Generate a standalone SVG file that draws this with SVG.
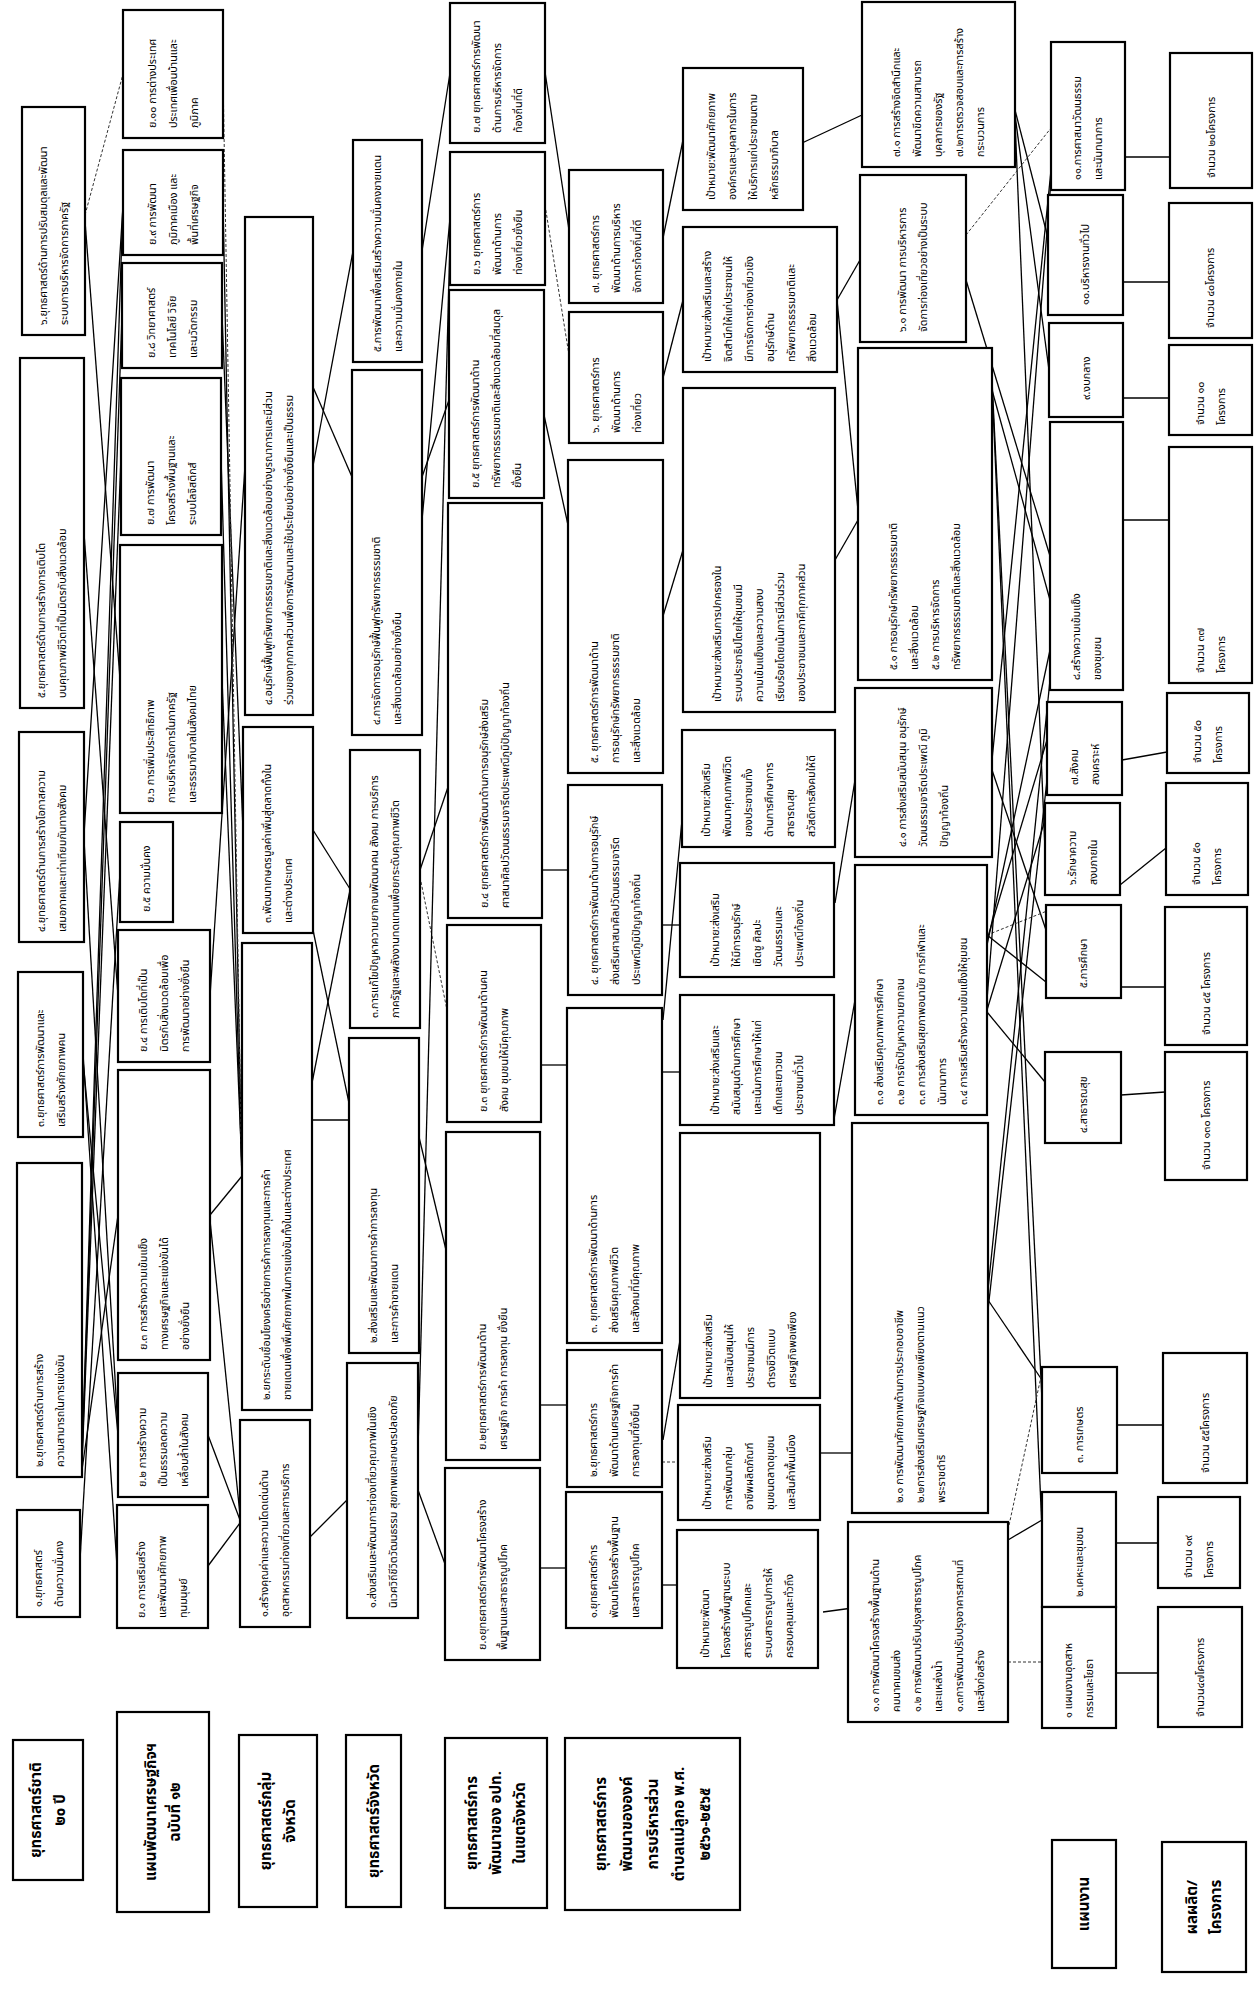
<svg xmlns="http://www.w3.org/2000/svg" width="1255" height="1989" viewBox="0 0 1255 1989">
<style>
.b{fill:#fff;stroke:#000;stroke-width:2.2}
text{font-family:"Noto Sans Thai","Noto Sans Thai UI","Noto Sans",Loma,Garuda,Norasi,sans-serif;fill:#000}
.t{font-size:10.8px}
.h{font-size:15px;font-weight:bold;text-anchor:middle}
.c line{stroke:#000;stroke-width:1.3}
.c line.d{stroke:#333;stroke-width:1;stroke-dasharray:3 2}
</style>
<rect x="0" y="0" width="1255" height="1989" fill="#fff"/>
<g class="c" id="connectors">
<line x1="80" y1="1560" x2="120" y2="872"/>
<line x1="82" y1="1470" x2="118" y2="1215"/>
<line x1="82" y1="1465" x2="121" y2="456"/>
<line x1="82" y1="1460" x2="122" y2="315"/>
<line x1="82" y1="1455" x2="123" y2="202"/>
<line x1="83" y1="1054" x2="117" y2="1566"/>
<line x1="83" y1="1060" x2="118" y2="1435"/>
<line x1="84" y1="840" x2="118" y2="1430"/>
<line x1="84" y1="835" x2="123" y2="205"/>
<line x1="84" y1="533" x2="118" y2="996"/>
<line x1="85" y1="221" x2="120" y2="679"/>
<line class="d" x1="85" y1="215" x2="123" y2="74"/>
<line x1="208" y1="1566" x2="240" y2="1523"/>
<line x1="208" y1="1435" x2="240" y2="1520"/>
<line x1="210" y1="1215" x2="242" y2="1176"/>
<line x1="210" y1="1220" x2="240" y2="1515"/>
<line x1="210" y1="996" x2="245" y2="466"/>
<line x1="222" y1="679" x2="242" y2="1170"/>
<line x1="221" y1="456" x2="242" y2="1180"/>
<line x1="222" y1="315" x2="243" y2="830"/>
<line x1="223" y1="202" x2="242" y2="1185"/>
<line class="d" x1="223" y1="74" x2="242" y2="1190"/>
<line x1="313" y1="387" x2="352" y2="477"/>
<line x1="313" y1="466" x2="353" y2="251"/>
<line x1="313" y1="830" x2="350" y2="889"/>
<line x1="312" y1="1120" x2="349" y2="1120"/>
<line x1="312" y1="1083" x2="350" y2="890"/>
<line x1="313" y1="930" x2="349" y2="1103"/>
<line x1="310" y1="1537" x2="347" y2="1500"/>
<line x1="422" y1="251" x2="450" y2="73"/>
<line x1="422" y1="477" x2="449" y2="400"/>
<line x1="422" y1="520" x2="450" y2="218"/>
<line x1="420" y1="870" x2="448" y2="787"/>
<line class="d" x1="420" y1="877" x2="447" y2="1010"/>
<line x1="419" y1="1137" x2="446" y2="1250"/>
<line x1="418" y1="1490" x2="445" y2="1564"/>
<line x1="418" y1="1450" x2="450" y2="240"/>
<line x1="545" y1="72" x2="569" y2="230"/>
<line class="d" x1="545" y1="205" x2="569" y2="355"/>
<line x1="544" y1="415" x2="568" y2="525"/>
<line x1="542" y1="870" x2="568" y2="870"/>
<line x1="541" y1="1065" x2="567" y2="1065"/>
<line x1="540" y1="1405" x2="567" y2="1405"/>
<line x1="540" y1="1568" x2="566" y2="1568"/>
<line x1="663" y1="238" x2="683" y2="140"/>
<line x1="663" y1="378" x2="683" y2="300"/>
<line x1="663" y1="616" x2="683" y2="550"/>
<line x1="662" y1="925" x2="680" y2="925"/>
<line x1="663" y1="1020" x2="682" y2="820"/>
<line x1="662" y1="1072" x2="680" y2="1072"/>
<line x1="663" y1="1440" x2="680" y2="1340"/>
<line class="d" x1="662" y1="1462" x2="678" y2="1462"/>
<line x1="662" y1="1585" x2="677" y2="1585"/>
<line x1="802" y1="143" x2="862" y2="115"/>
<line x1="837" y1="300" x2="860" y2="260"/>
<line x1="837" y1="300" x2="858" y2="510"/>
<line x1="835" y1="560" x2="858" y2="520"/>
<line x1="835" y1="903" x2="855" y2="780"/>
<line x1="833" y1="1125" x2="855" y2="1000"/>
<line x1="820" y1="1453" x2="852" y2="1453"/>
<line x1="823" y1="1612" x2="860" y2="1607"/>
<line x1="1015" y1="110" x2="1048" y2="238"/>
<line x1="1015" y1="115" x2="1049" y2="370"/>
<line x1="1015" y1="120" x2="1045" y2="850"/>
<line class="d" x1="966" y1="235" x2="1051" y2="128"/>
<line x1="966" y1="280" x2="1050" y2="556"/>
<line x1="992" y1="380" x2="1042" y2="1400"/>
<line x1="992" y1="385" x2="1042" y2="1530"/>
<line x1="992" y1="390" x2="1050" y2="600"/>
<line x1="992" y1="760" x2="1051" y2="170"/>
<line x1="992" y1="770" x2="1046" y2="930"/>
<line class="d" x1="987" y1="935" x2="1057" y2="907"/>
<line x1="987" y1="935" x2="1046" y2="982"/>
<line x1="987" y1="1012" x2="1045" y2="1082"/>
<line x1="987" y1="940" x2="1047" y2="740"/>
<line x1="987" y1="945" x2="1050" y2="650"/>
<line x1="987" y1="1010" x2="1045" y2="820"/>
<line x1="987" y1="1000" x2="1051" y2="180"/>
<line x1="988" y1="1300" x2="1042" y2="1380"/>
<line x1="988" y1="1290" x2="1050" y2="680"/>
<line x1="988" y1="1310" x2="1047" y2="780"/>
<line class="d" x1="1008" y1="1662" x2="1042" y2="1662"/>
<line x1="1008" y1="1540" x2="1042" y2="1520"/>
<line class="d" x1="1008" y1="1530" x2="1042" y2="1372"/>
<line x1="1125" y1="157" x2="1170" y2="157"/>
<line x1="1123" y1="282" x2="1169" y2="282"/>
<line x1="1123" y1="398" x2="1169" y2="398"/>
<line x1="1123" y1="520" x2="1169" y2="520"/>
<line x1="1122" y1="760" x2="1167" y2="752"/>
<line x1="1120" y1="885" x2="1166" y2="848"/>
<line x1="1121" y1="987" x2="1165" y2="987"/>
<line x1="1121" y1="1095" x2="1165" y2="1092"/>
<line x1="1117" y1="1425" x2="1163" y2="1425"/>
<line x1="1116" y1="1543" x2="1158" y2="1543"/>
<line x1="1116" y1="1673" x2="1158" y2="1673"/>
</g>

<g id="n1_6"><rect class="b" x="22" y="107" width="63" height="228"/><text class="t" transform="translate(53.5 221) rotate(-90)"><tspan x="-104" y="-6.8">๖.ยุทธศาสตร์ด้านการปรับสมดุลและพัฒนา</tspan><tspan x="-104" y="14.2">ระบบการบริหารจัดการภาครัฐ</tspan></text></g>
<g id="n1_5"><rect class="b" x="20" y="358" width="64" height="350"/><text class="t" transform="translate(52 533) rotate(-90)"><tspan x="-165" y="-6.8">๕.ยุทธศาสตร์ด้านการสร้างการเติบโต</tspan><tspan x="-165" y="14.2">บนคุณภาพชีวิตที่เป็นมิตรกับสิ่งแวดล้อม</tspan></text></g>
<g id="n1_4"><rect class="b" x="19" y="732" width="65" height="210"/><text class="t" transform="translate(51.5 837) rotate(-90)"><tspan x="-95" y="-6.8">๔.ยุทธศาสตร์ด้านการสร้างโอกาสความ</tspan><tspan x="-95" y="14.2">เสมอภาคและเท่าเทียมกันทางสังคม</tspan></text></g>
<g id="n1_3"><rect class="b" x="18" y="972" width="65" height="165"/><text class="t" transform="translate(50.5 1054.5) rotate(-90)"><tspan x="-72.5" y="-6.8">๓.ยุทธศาสตร์การพัฒนาและ</tspan><tspan x="-72.5" y="14.2">เสริมสร้างศักยภาพคน</tspan></text></g>
<g id="n1_2"><rect class="b" x="17" y="1163" width="65" height="314"/><text class="t" transform="translate(49.5 1320) rotate(-90)"><tspan x="-147" y="-6.8">๒.ยุทธศาสตร์ด้านการสร้าง</tspan><tspan x="-147" y="14.2">ความสามารถในการแข่งขัน</tspan></text></g>
<g id="n1_1"><rect class="b" x="17" y="1510" width="63" height="107"/><text class="t" transform="translate(48.5 1563.5) rotate(-90)"><tspan x="-43.5" y="-6.8">๑.ยุทธศาสตร์</tspan><tspan x="-43.5" y="14.2">ด้านความมั่นคง</tspan></text></g>
<g id="h1"><rect class="b" x="13" y="1740" width="70" height="140"/><text class="h" transform="translate(48 1810) rotate(-90)"><tspan x="0" y="-7">ยุทธศาสตร์ชาติ</tspan><tspan x="0" y="17">๒๐ ปี</tspan></text></g>

<g id="y10"><rect class="b" x="123" y="10" width="100" height="128"/><text class="t" transform="translate(173 74) rotate(-90)"><tspan x="-54" y="-17.3">ย.๑๐ การต่างประเทศ</tspan><tspan x="-54" y="3.7">ประเทศเพื่อนบ้านและ</tspan><tspan x="-54" y="24.7">ภูมิภาค</tspan></text></g>
<g id="y9"><rect class="b" x="123" y="150" width="100" height="105"/><text class="t" transform="translate(173 202.5) rotate(-90)"><tspan x="-42.5" y="-17.3">ย.๙ การพัฒนา</tspan><tspan x="-42.5" y="3.7">ภูมิภาคเมือง และ</tspan><tspan x="-42.5" y="24.7">พื้นที่เศรษฐกิจ</tspan></text></g>
<g id="y8"><rect class="b" x="122" y="263" width="100" height="105"/><text class="t" transform="translate(172 315.5) rotate(-90)"><tspan x="-42.5" y="-17.3">ย.๘ วิทยาศาสตร์</tspan><tspan x="-42.5" y="3.7">เทคโนโลยี วิจัย</tspan><tspan x="-42.5" y="24.7">และนวัตกรรม</tspan></text></g>
<g id="y7"><rect class="b" x="121" y="378" width="100" height="157"/><text class="t" transform="translate(171 456.5) rotate(-90)"><tspan x="-68.5" y="-17.3">ย.๗ การพัฒนา</tspan><tspan x="-68.5" y="3.7">โครงสร้างพื้นฐานและ</tspan><tspan x="-68.5" y="24.7">ระบบโลจิสติกส์</tspan></text></g>
<g id="y6"><rect class="b" x="120" y="545" width="102" height="268"/><text class="t" transform="translate(171 679) rotate(-90)"><tspan x="-124" y="-17.3">ย.๖ การเพิ่มประสิทธิภาพ</tspan><tspan x="-124" y="3.7">การบริหารจัดการในภาครัฐ</tspan><tspan x="-124" y="24.7">และธรรมาภิบาลในสังคมไทย</tspan></text></g>
<g id="y5"><rect class="b" x="120" y="822" width="53" height="100"/><text class="t" transform="translate(146.5 872) rotate(-90)"><tspan x="-40" y="3.7">ย.๕ ความมั่นคง</tspan></text></g>
<g id="y4"><rect class="b" x="118" y="930" width="92" height="132"/><text class="t" transform="translate(164 996) rotate(-90)"><tspan x="-56" y="-17.3">ย.๔ การเติบโตที่เป็น</tspan><tspan x="-56" y="3.7">มิตรกับสิ่งแวดล้อมเพื่อ</tspan><tspan x="-56" y="24.7">การพัฒนาอย่างยั่งยืน</tspan></text></g>
<g id="y3"><rect class="b" x="118" y="1070" width="92" height="290"/><text class="t" transform="translate(164 1215) rotate(-90)"><tspan x="-135" y="-17.3">ย.๓ การสร้างความเข้มแข็ง</tspan><tspan x="-135" y="3.7">ทางเศรษฐกิจและแข่งขันได้</tspan><tspan x="-135" y="24.7">อย่างยั่งยืน</tspan></text></g>
<g id="y2"><rect class="b" x="118" y="1373" width="90" height="124"/><text class="t" transform="translate(163 1435) rotate(-90)"><tspan x="-52" y="-17.3">ย.๒ การสร้างความ</tspan><tspan x="-52" y="3.7">เป็นธรรมลดความ</tspan><tspan x="-52" y="24.7">เหลื่อมล้ำในสังคม</tspan></text></g>
<g id="y1"><rect class="b" x="117" y="1505" width="91" height="123"/><text class="t" transform="translate(162.5 1566.5) rotate(-90)"><tspan x="-51.5" y="-17.3">ย.๑ การเสริมสร้าง</tspan><tspan x="-51.5" y="3.7">และพัฒนาศักยภาพ</tspan><tspan x="-51.5" y="24.7">ทุนมนุษย์</tspan></text></g>
<g id="h2"><rect class="b" x="117" y="1712" width="92" height="200"/><text class="h" transform="translate(163 1812) rotate(-90)"><tspan x="0" y="-7">แผนพัฒนาเศรษฐกิจฯ</tspan><tspan x="0" y="17">ฉบับที่ ๑๒</tspan></text></g>

<g id="g4"><rect class="b" x="245" y="217" width="68" height="498"/><text class="t" transform="translate(279 466) rotate(-90)"><tspan x="-239" y="-6.8">๔.อนุรักษ์ฟื้นฟูทรัพยากรธรรมชาติและสิ่งแวดล้อมอย่างบูรณาการและมีส่วน</tspan><tspan x="-239" y="14.2">ร่วมของทุกภาคส่วนเพื่อการพัฒนาและใช้ประโยชน์อย่างยั่งยืนและเป็นธรรม</tspan></text></g>
<g id="g3"><rect class="b" x="243" y="727" width="70" height="206"/><text class="t" transform="translate(278 830) rotate(-90)"><tspan x="-93" y="-6.8">๓.พัฒนาเกษตรมูลค่าเพิ่มสู่ตลาดทั้งใน</tspan><tspan x="-93" y="14.2">และต่างประเทศ</tspan></text></g>
<g id="g2"><rect class="b" x="242" y="943" width="70" height="467"/><text class="t" transform="translate(277 1176.5) rotate(-90)"><tspan x="-223.5" y="-6.8">๒.ยกระดับเชื่อมโยงเครือข่ายการค้าการลงทุนและการค้า</tspan><tspan x="-223.5" y="14.2">ชายแดนเพื่อเพิ่มศักยภาพในการแข่งขันทั้งในและต่างประเทศ</tspan></text></g>
<g id="g1"><rect class="b" x="240" y="1420" width="70" height="207"/><text class="t" transform="translate(275 1523.5) rotate(-90)"><tspan x="-93.5" y="-6.8">๑.สร้างคุณค่าและความโดดเด่นด้าน</tspan><tspan x="-93.5" y="14.2">อุตสาหกรรมท่องเที่ยวและการบริการ</tspan></text></g>
<g id="h3"><rect class="b" x="239" y="1735" width="78" height="172"/><text class="h" transform="translate(278 1821) rotate(-90)"><tspan x="0" y="-7">ยุทธศาสตร์กลุ่ม</tspan><tspan x="0" y="17">จังหวัด</tspan></text></g>

<g id="p5"><rect class="b" x="353" y="140" width="69" height="222"/><text class="t" transform="translate(387.5 251) rotate(-90)"><tspan x="-101" y="-6.8">๕.การพัฒนาเพื่อเสริมสร้างความมั่นคงชายแดน</tspan><tspan x="-101" y="14.2">และความมั่นคงภายใน</tspan></text></g>
<g id="p4"><rect class="b" x="352" y="370" width="70" height="365"/><text class="t" transform="translate(387 552.5) rotate(-90)"><tspan x="-172.5" y="-6.8">๔.การจัดการอนุรักษ์ฟื้นฟูทรัพยากรธรรมชาติ</tspan><tspan x="-172.5" y="14.2">และสิ่งแวดล้อมอย่างยั่งยืน</tspan></text></g>
<g id="p3"><rect class="b" x="350" y="750" width="70" height="278"/><text class="t" transform="translate(385 889) rotate(-90)"><tspan x="-129" y="-6.8">๓.การแก้ไขปัญหาความยากจนพัฒนาคน สังคม การบริการ</tspan><tspan x="-129" y="14.2">ภาครัฐและพลังงานทดแทนเพื่อยกระดับคุณภาพชีวิต</tspan></text></g>
<g id="p2"><rect class="b" x="349" y="1038" width="70" height="315"/><text class="t" transform="translate(384 1195.5) rotate(-90)"><tspan x="-147.5" y="-6.8">๒.ส่งเสริมและพัฒนาการค้าการลงทุน</tspan><tspan x="-147.5" y="14.2">และการค้าชายแดน</tspan></text></g>
<g id="p1"><rect class="b" x="347" y="1363" width="71" height="255"/><text class="t" transform="translate(382.5 1490.5) rotate(-90)"><tspan x="-117.5" y="-6.8">๑.ส่งเสริมและพัฒนาการท่องเที่ยวคุณภาพในเชิง</tspan><tspan x="-117.5" y="14.2">นิเวศวิถีชีวิตวัฒนธรรม สุขภาพและเกษตรปลอดภัย</tspan></text></g>
<g id="h4"><rect class="b" x="346" y="1735" width="55" height="172"/><text class="h" transform="translate(373.5 1821) rotate(-90)"><tspan x="0" y="5">ยุทธศาสตร์จังหวัด</tspan></text></g>

<g id="a7"><rect class="b" x="450" y="3" width="95" height="140"/><text class="t" transform="translate(497.5 73) rotate(-90)"><tspan x="-60" y="-17.3">ย.๗ ยุทธศาสตร์การพัฒนา</tspan><tspan x="-60" y="3.7">ด้านการบริหารจัดการ</tspan><tspan x="-60" y="24.7">ท้องถิ่นที่ดี</tspan></text></g>
<g id="a6"><rect class="b" x="450" y="152" width="95" height="133"/><text class="t" transform="translate(497.5 218.5) rotate(-90)"><tspan x="-56.5" y="-17.3">ย.๖ ยุทธศาสตร์การ</tspan><tspan x="-56.5" y="3.7">พัฒนาด้านการ</tspan><tspan x="-56.5" y="24.7">ท่องเที่ยวยั่งยืน</tspan></text></g>
<g id="a5"><rect class="b" x="449" y="290" width="95" height="208"/><text class="t" transform="translate(496.5 394) rotate(-90)"><tspan x="-94" y="-17.3">ย.๕ ยุทธศาสตร์การพัฒนาด้าน</tspan><tspan x="-94" y="3.7">ทรัพยากรธรรมชาติและสิ่งแวดล้อมที่สมดุล</tspan><tspan x="-94" y="24.7">ยั่งยืน</tspan></text></g>
<g id="a4"><rect class="b" x="448" y="503" width="94" height="415"/><text class="t" transform="translate(495 710.5) rotate(-90)"><tspan x="-197.5" y="-6.8">ย.๔ ยุทธศาสตร์การพัฒนาด้านการอนุรักษ์ส่งเสริม</tspan><tspan x="-197.5" y="14.2">ศาสนาศิลปวัฒนธรรมจารีตประเพณีภูมิปัญญาท้องถิ่น</tspan></text></g>
<g id="a3"><rect class="b" x="447" y="925" width="94" height="197"/><text class="t" transform="translate(494 1023.5) rotate(-90)"><tspan x="-88.5" y="-6.8">ย.๓ ยุทธศาสตร์การพัฒนาด้านคน</tspan><tspan x="-88.5" y="14.2">สังคม ชุมชนให้มีคุณภาพ</tspan></text></g>
<g id="a2"><rect class="b" x="446" y="1132" width="94" height="328"/><text class="t" transform="translate(493 1296) rotate(-90)"><tspan x="-154" y="-6.8">ย.๒ยุทธศาสตร์การพัฒนาด้าน</tspan><tspan x="-154" y="14.2">เศรษฐกิจ การค้า การลงทุน ยั่งยืน</tspan></text></g>
<g id="a1"><rect class="b" x="445" y="1468" width="95" height="192"/><text class="t" transform="translate(492.5 1564) rotate(-90)"><tspan x="-86" y="-6.8">ย.๑ยุทธศาสตร์การพัฒนาโครงสร้าง</tspan><tspan x="-86" y="14.2">พื้นฐานและสาธารณูปโภค</tspan></text></g>
<g id="h5"><rect class="b" x="445" y="1738" width="102" height="170"/><text class="h" transform="translate(496 1823) rotate(-90)"><tspan x="0" y="-19">ยุทธศาสตร์การ</tspan><tspan x="0" y="5">พัฒนาของ อปท.</tspan><tspan x="0" y="29">ในเขตจังหวัด</tspan></text></g>

<g id="s7"><rect class="b" x="569" y="170" width="94" height="133"/><text class="t" transform="translate(616 236.5) rotate(-90)"><tspan x="-56.5" y="-17.3">๗. ยุทธศาสตร์การ</tspan><tspan x="-56.5" y="3.7">พัฒนาด้านการบริหาร</tspan><tspan x="-56.5" y="24.7">จัดการท้องถิ่นที่ดี</tspan></text></g>
<g id="s6"><rect class="b" x="569" y="312" width="94" height="131"/><text class="t" transform="translate(616 377.5) rotate(-90)"><tspan x="-55.5" y="-17.3">๖. ยุทธศาสตร์การ</tspan><tspan x="-55.5" y="3.7">พัฒนาด้านการ</tspan><tspan x="-55.5" y="24.7">ท่องเที่ยว</tspan></text></g>
<g id="s5"><rect class="b" x="568" y="460" width="95" height="313"/><text class="t" transform="translate(615.5 616.5) rotate(-90)"><tspan x="-146.5" y="-17.3">๕. ยุทธศาสตร์การพัฒนาด้าน</tspan><tspan x="-146.5" y="3.7">การอนุรักษ์ทรัพยากรธรรมชาติ</tspan><tspan x="-146.5" y="24.7">และสิ่งแวดล้อม</tspan></text></g>
<g id="s4"><rect class="b" x="568" y="785" width="94" height="210"/><text class="t" transform="translate(615 890) rotate(-90)"><tspan x="-95" y="-17.3">๔. ยุทธศาสตร์การพัฒนาด้านการอนุรักษ์</tspan><tspan x="-95" y="3.7">ส่งเสริมศาสนาศิลปวัฒนธรรมจารีต</tspan><tspan x="-95" y="24.7">ประเพณีภูมิปัญญาท้องถิ่น</tspan></text></g>
<g id="s3"><rect class="b" x="567" y="1008" width="95" height="335"/><text class="t" transform="translate(614.5 1175.5) rotate(-90)"><tspan x="-157.5" y="-17.3">๓. ยุทธศาสตร์การพัฒนาด้านการ</tspan><tspan x="-157.5" y="3.7">ส่งเสริมคุณภาพชีวิต</tspan><tspan x="-157.5" y="24.7">และสังคมที่มีคุณภาพ</tspan></text></g>
<g id="s2"><rect class="b" x="567" y="1350" width="95" height="137"/><text class="t" transform="translate(614.5 1418.5) rotate(-90)"><tspan x="-58.5" y="-17.3">๒.ยุทธศาสตร์การ</tspan><tspan x="-58.5" y="3.7">พัฒนาด้านเศรษฐกิจการค้า</tspan><tspan x="-58.5" y="24.7">การลงทุนที่ยั่งยืน</tspan></text></g>
<g id="s1"><rect class="b" x="566" y="1492" width="96" height="136"/><text class="t" transform="translate(614 1560) rotate(-90)"><tspan x="-58" y="-17.3">๑.ยุทธศาสตร์การ</tspan><tspan x="-58" y="3.7">พัฒนาโครงสร้างพื้นฐาน</tspan><tspan x="-58" y="24.7">และสาธารณูปโภค</tspan></text></g>
<g id="h6"><rect class="b" x="565" y="1738" width="175" height="172"/><text class="h" transform="translate(652.5 1824) rotate(-90)"><tspan x="0" y="-47">ยุทธศาสตร์การ</tspan><tspan x="0" y="-21">พัฒนาขององค์</tspan><tspan x="0" y="5">การบริหารส่วน</tspan><tspan x="0" y="31">ตำบลแม่ลูกอ พ.ศ.</tspan><tspan x="0" y="57">๒๕๖๑-๒๕๖๕</tspan></text></g>

<g id="t7"><rect class="b" x="683" y="68" width="120" height="142"/><text class="t" transform="translate(743 139) rotate(-90)"><tspan x="-61" y="-27.8">เป้าหมาย:พัฒนาศักยภาพ</tspan><tspan x="-61" y="-6.8">องค์กรและบุคลากรในการ</tspan><tspan x="-61" y="14.2">ให้บริการแก่ประชาชนตาม</tspan><tspan x="-61" y="35.2">หลักธรรมาภิบาล</tspan></text></g>
<g id="t6"><rect class="b" x="683" y="227" width="154" height="145"/><text class="t" transform="translate(760 299.5) rotate(-90)"><tspan x="-62.5" y="-48.8">เป้าหมาย:ส่งเสริมและสร้าง</tspan><tspan x="-62.5" y="-27.8">จิตสำนึกให้แก่ประชาชนให้</tspan><tspan x="-62.5" y="-6.8">มีการจัดการท่องเที่ยวเชิง</tspan><tspan x="-62.5" y="14.2">อนุรักษ์ด้าน</tspan><tspan x="-62.5" y="35.2">ทรัพยากรธรรมชาติและ</tspan><tspan x="-62.5" y="56.2">สิ่งแวดล้อม</tspan></text></g>
<g id="t5"><rect class="b" x="683" y="388" width="152" height="324"/><text class="t" transform="translate(759 550) rotate(-90)"><tspan x="-152" y="-38.3">เป้าหมาย:ส่งเสริมการปกครองใน</tspan><tspan x="-152" y="-17.3">ระบบประชาธิปไตยให้ชุมชนมี</tspan><tspan x="-152" y="3.7">ความเข้มแข็งและความสงบ</tspan><tspan x="-152" y="24.7">เรียบร้อยโดยเน้นการมีส่วนร่วม</tspan><tspan x="-152" y="45.7">ของประชาชนและภาคีทุกภาคส่วน</tspan></text></g>
<g id="t4b"><rect class="b" x="682" y="730" width="153" height="117"/><text class="t" transform="translate(758.5 788.5) rotate(-90)"><tspan x="-48.5" y="-48.8">เป้าหมาย:ส่งเสริม</tspan><tspan x="-48.5" y="-27.8">พัฒนาคุณภาพชีวิต</tspan><tspan x="-48.5" y="-6.8">ของประชาชนทั้ง</tspan><tspan x="-48.5" y="14.2">ด้านการศึกษาการ</tspan><tspan x="-48.5" y="35.2">สาธารณสุข</tspan><tspan x="-48.5" y="56.2">สวัสดิการสังคมให้ดี</tspan></text></g>
<g id="t4"><rect class="b" x="680" y="863" width="154" height="114"/><text class="t" transform="translate(757 920) rotate(-90)"><tspan x="-47" y="-38.3">เป้าหมาย:ส่งเสริม</tspan><tspan x="-47" y="-17.3">ให้มีการอนุรักษ์</tspan><tspan x="-47" y="3.7">เชิดชู ศิลปะ</tspan><tspan x="-47" y="24.7">วัฒนธรรมและ</tspan><tspan x="-47" y="45.7">ประเพณีท้องถิ่น</tspan></text></g>
<g id="t3"><rect class="b" x="680" y="995" width="154" height="130"/><text class="t" transform="translate(757 1060) rotate(-90)"><tspan x="-55" y="-38.3">เป้าหมาย:ส่งเสริมและ</tspan><tspan x="-55" y="-17.3">สนับสนุนด้านการศึกษา</tspan><tspan x="-55" y="3.7">และเน้นการศึกษาให้แก่</tspan><tspan x="-55" y="24.7">เด็กและเยาวชน</tspan><tspan x="-55" y="45.7">ประชาชนทั่วไป</tspan></text></g>
<g id="t2b"><rect class="b" x="680" y="1133" width="140" height="265"/><text class="t" transform="translate(750 1265.5) rotate(-90)"><tspan x="-122.5" y="-38.3">เป้าหมาย:ส่งเสริม</tspan><tspan x="-122.5" y="-17.3">และสนับสนุนให้</tspan><tspan x="-122.5" y="3.7">ประชาชนมีการ</tspan><tspan x="-122.5" y="24.7">ดำรงชีวิตแบบ</tspan><tspan x="-122.5" y="45.7">เศรษฐกิจพอเพียง</tspan></text></g>
<g id="t2"><rect class="b" x="678" y="1405" width="142" height="115"/><text class="t" transform="translate(749 1462.5) rotate(-90)"><tspan x="-47.5" y="-38.3">เป้าหมาย:ส่งเสริม</tspan><tspan x="-47.5" y="-17.3">การพัฒนากลุ่ม</tspan><tspan x="-47.5" y="3.7">อาชีพผลิตภัณฑ์</tspan><tspan x="-47.5" y="24.7">ชุมชนตลาดชุมชน</tspan><tspan x="-47.5" y="45.7">และสินค้าพื้นเมือง</tspan></text></g>
<g id="t1"><rect class="b" x="677" y="1530" width="141" height="138"/><text class="t" transform="translate(747.5 1599) rotate(-90)"><tspan x="-59" y="-38.3">เป้าหมาย:พัฒนา</tspan><tspan x="-59" y="-17.3">โครงสร้างพื้นฐานระบบ</tspan><tspan x="-59" y="3.7">สาธารณูปโภคและ</tspan><tspan x="-59" y="24.7">ระบบสาธารณูปการให้</tspan><tspan x="-59" y="45.7">ครอบคลุมและทั่วถึง</tspan></text></g>

<g id="r7"><rect class="b" x="862" y="2" width="153" height="165"/><text class="t" transform="translate(938.5 84.5) rotate(-90)"><tspan x="-72.5" y="-38.3">๗.๑ การสร้างจิตสำนึกและ</tspan><tspan x="-72.5" y="-17.3">พัฒนาขีดความสามารถ</tspan><tspan x="-72.5" y="3.7">บุคลากรของรัฐ</tspan><tspan x="-72.5" y="24.7">๗.๒การตรวจสอบและการสร้าง</tspan><tspan x="-72.5" y="45.7">กระบวนการ</tspan></text></g>
<g id="r6"><rect class="b" x="860" y="175" width="106" height="167"/><text class="t" transform="translate(913 258.5) rotate(-90)"><tspan x="-73.5" y="-6.8">๖.๑ การพัฒนา การบริหารการ</tspan><tspan x="-73.5" y="14.2">จัดการท่องเที่ยวอย่างเป็นระบบ</tspan></text></g>
<g id="r5"><rect class="b" x="858" y="348" width="134" height="332"/><text class="t" transform="translate(925 514) rotate(-90)"><tspan x="-156" y="-27.8">๕.๑ การอนุรักษ์ทรัพยากรธรรมชาติ</tspan><tspan x="-156" y="-6.8">และสิ่งแวดล้อม</tspan><tspan x="-156" y="14.2">๕.๒ การบริหารจัดการ</tspan><tspan x="-156" y="35.2">ทรัพยากรธรรมชาติและสิ่งแวดล้อม</tspan></text></g>
<g id="r4"><rect class="b" x="855" y="688" width="137" height="169"/><text class="t" transform="translate(923.5 772.5) rotate(-90)"><tspan x="-74.5" y="-17.3">๔.๑ การส่งเสริมสนับสนุน อนุรักษ์</tspan><tspan x="-74.5" y="3.7">วัฒนธรรมจารีตประเพณี ภูมิ</tspan><tspan x="-74.5" y="24.7">ปัญญาท้องถิ่น</tspan></text></g>
<g id="r3"><rect class="b" x="855" y="865" width="132" height="250"/><text class="t" transform="translate(921 990) rotate(-90)"><tspan x="-115" y="-38.3">๓.๑ ส่งเสริมคุณภาพการศึกษา</tspan><tspan x="-115" y="-17.3">๓.๒ การจัดปัญหาความยากจน</tspan><tspan x="-115" y="3.7">๓.๓ การส่งเสริมสุขภาพอนามัย การกีฬาและ</tspan><tspan x="-115" y="24.7">นันทนาการ</tspan><tspan x="-115" y="45.7">๓.๔ การเสริมสร้างความเข้มแข็งให้ชุมชน</tspan></text></g>
<g id="r2"><rect class="b" x="852" y="1123" width="136" height="390"/><text class="t" transform="translate(920 1318) rotate(-90)"><tspan x="-185" y="-17.3">๒.๑ การพัฒนาศักยภาพด้านการประกอบอาชีพ</tspan><tspan x="-185" y="3.7">๒.๒การส่งเสริมเศรษฐกิจแบบพอเพียงตามแนว</tspan><tspan x="-185" y="24.7">พระราชดำริ</tspan></text></g>
<g id="r1"><rect class="b" x="848" y="1522" width="160" height="200"/><text class="t" transform="translate(928 1622) rotate(-90)"><tspan x="-90" y="-48.8">๑.๑ การพัฒนาโครงสร้างพื้นฐานด้าน</tspan><tspan x="-90" y="-27.8">คมนาคมขนส่ง</tspan><tspan x="-90" y="-6.8">๑.๒ การพัฒนาปรับปรุงสาธารณูปโภค</tspan><tspan x="-90" y="14.2">และแหล่งน้ำ</tspan><tspan x="-90" y="35.2">๑.๓การพัฒนาปรับปรุงอาคารสถานที่</tspan><tspan x="-90" y="56.2">และสิ่งก่อสร้าง</tspan></text></g>

<g id="w11"><rect class="b" x="1051" y="42" width="74" height="148"/><text class="t" transform="translate(1088 116) rotate(-90)"><tspan x="-64" y="-6.8">๑๑.การศาสนาวัฒนธรรม</tspan><tspan x="-64" y="14.2">และนันทนาการ</tspan></text></g>
<g id="w10"><rect class="b" x="1048" y="195" width="75" height="120"/><text class="t" transform="translate(1085.5 255) rotate(-90)"><tspan x="-50" y="3.7">๑๐.บริหารงานทั่วไป</tspan></text></g>
<g id="w9"><rect class="b" x="1049" y="323" width="74" height="94"/><text class="t" transform="translate(1086 370) rotate(-90)"><tspan x="-30" y="3.7">๙.งบกลาง</tspan></text></g>
<g id="w8"><rect class="b" x="1050" y="422" width="73" height="268"/><text class="t" transform="translate(1086.5 556) rotate(-90)"><tspan x="-124" y="-6.8">๘.สร้างความเข้มแข็ง</tspan><tspan x="-124" y="14.2">ของชุมชน</tspan></text></g>
<g id="w7"><rect class="b" x="1047" y="702" width="75" height="93"/><text class="t" transform="translate(1084.5 748.5) rotate(-90)"><tspan x="-36.5" y="-6.8">๗.สังคม</tspan><tspan x="-36.5" y="14.2">สงเคราะห์</tspan></text></g>
<g id="w6"><rect class="b" x="1045" y="803" width="75" height="92"/><text class="t" transform="translate(1082.5 849) rotate(-90)"><tspan x="-36" y="-6.8">๖.รักษาความ</tspan><tspan x="-36" y="14.2">สงบภายใน</tspan></text></g>
<g id="w5"><rect class="b" x="1046" y="905" width="75" height="93"/><text class="t" transform="translate(1083.5 951.5) rotate(-90)"><tspan x="-36.5" y="3.7">๕.การศึกษา</tspan></text></g>
<g id="w4"><rect class="b" x="1045" y="1052" width="76" height="91"/><text class="t" transform="translate(1083 1097.5) rotate(-90)"><tspan x="-35.5" y="3.7">๔.สาธารณสุข</tspan></text></g>
<g id="w3"><rect class="b" x="1042" y="1367" width="75" height="106"/><text class="t" transform="translate(1079.5 1420) rotate(-90)"><tspan x="-43" y="3.7">๓. การเกษตร</tspan></text></g>
<g id="w2"><rect class="b" x="1042" y="1492" width="74" height="115"/><text class="t" transform="translate(1079 1549.5) rotate(-90)"><tspan x="-47.5" y="3.7">๒.เคหะและชุมชน</tspan></text></g>
<g id="w1"><rect class="b" x="1042" y="1607" width="74" height="121"/><text class="t" transform="translate(1079 1667.5) rotate(-90)"><tspan x="-50.5" y="-6.8">๑ แผนงานอุตสาห</tspan><tspan x="-50.5" y="14.2">กรรมและโยธา</tspan></text></g>
<g id="h9"><rect class="b" x="1052" y="1840" width="64" height="128"/><text class="h" transform="translate(1084 1904) rotate(-90)"><tspan x="0" y="5">แผนงาน</tspan></text></g>

<g id="c11"><rect class="b" x="1170" y="53" width="82" height="135"/><text class="t" transform="translate(1211 120.5) rotate(-90)"><tspan x="-57.5" y="3.7">จำนวน ๒๐โครงการ</tspan></text></g>
<g id="c10"><rect class="b" x="1169" y="203" width="83" height="135"/><text class="t" transform="translate(1210.5 270.5) rotate(-90)"><tspan x="-57.5" y="3.7">จำนวน ๔๐โครงการ</tspan></text></g>
<g id="c9"><rect class="b" x="1169" y="345" width="83" height="90"/><text class="t" transform="translate(1210.5 390) rotate(-90)"><tspan x="-35" y="-6.8">จำนวน ๑๐</tspan><tspan x="-35" y="14.2">โครงการ</tspan></text></g>
<g id="c8"><rect class="b" x="1169" y="447" width="83" height="236"/><text class="t" transform="translate(1210.5 565) rotate(-90)"><tspan x="-108" y="-6.8">จำนวน ๓๗</tspan><tspan x="-108" y="14.2">โครงการ</tspan></text></g>
<g id="c7"><rect class="b" x="1167" y="693" width="82" height="80"/><text class="t" transform="translate(1208 733) rotate(-90)"><tspan x="-30" y="-6.8">จำนวน ๕๐</tspan><tspan x="-30" y="14.2">โครงการ</tspan></text></g>
<g id="c6"><rect class="b" x="1166" y="783" width="82" height="112"/><text class="t" transform="translate(1207 839) rotate(-90)"><tspan x="-46" y="-6.8">จำนวน ๕๑</tspan><tspan x="-46" y="14.2">โครงการ</tspan></text></g>
<g id="c5"><rect class="b" x="1165" y="907" width="82" height="138"/><text class="t" transform="translate(1206 976) rotate(-90)"><tspan x="-59" y="3.7">จำนวน ๔๕ โครงการ</tspan></text></g>
<g id="c4"><rect class="b" x="1165" y="1052" width="82" height="128"/><text class="t" transform="translate(1206 1116) rotate(-90)"><tspan x="-54" y="3.7">จำนวน ๑๓๐ โครงการ</tspan></text></g>
<g id="c3"><rect class="b" x="1163" y="1353" width="84" height="130"/><text class="t" transform="translate(1205 1418) rotate(-90)"><tspan x="-55" y="3.7">จำนวน ๕๕โครงการ</tspan></text></g>
<g id="c2"><rect class="b" x="1158" y="1497" width="82" height="91"/><text class="t" transform="translate(1199 1542.5) rotate(-90)"><tspan x="-35.5" y="-6.8">จำนวน ๑๙</tspan><tspan x="-35.5" y="14.2">โครงการ</tspan></text></g>
<g id="c1"><rect class="b" x="1158" y="1607" width="84" height="120"/><text class="t" transform="translate(1200 1667) rotate(-90)"><tspan x="-50" y="3.7">จำนวน๔๗โครงการ</tspan></text></g>
<g id="h10"><rect class="b" x="1162" y="1842" width="84" height="130"/><text class="h" transform="translate(1204 1907) rotate(-90)"><tspan x="0" y="-7">ผลผลิต/</tspan><tspan x="0" y="17">โครงการ</tspan></text></g>
</svg>
